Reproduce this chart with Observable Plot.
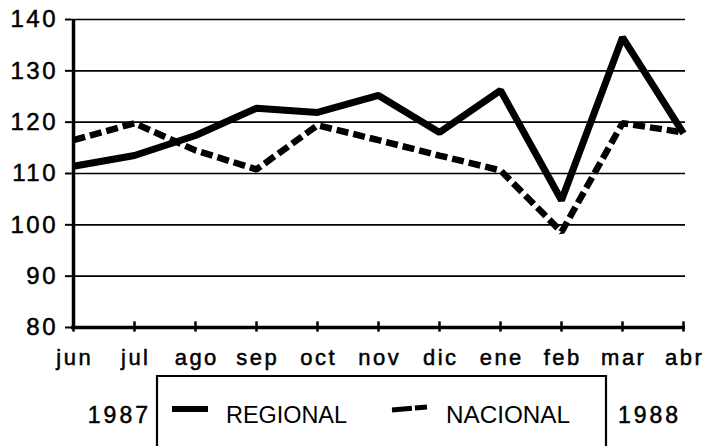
<!DOCTYPE html>
<html>
<head>
<meta charset="utf-8">
<script src="https://cdn.jsdelivr.net/npm/d3@7"></script>
<script src="https://cdn.jsdelivr.net/npm/@observablehq/plot@0.6"></script>
<style>
  html, body { margin: 0; padding: 0; background: #fff; }
  #chart { width: 706px; height: 446px; position: relative; }
  svg { font-family: "Liberation Sans", Arial, sans-serif; }
</style>
</head>
<body>
<div id="chart"></div>
<script>
const months = ["jun","jul","ago","sep","oct","nov","dic","ene","feb","mar","abr"];
const regional = [111.4, 113.5, 117.4, 122.7, 121.9, 125.2, 118.0, 126.2, 104.8, 136.5, 117.8];
const nacional = [116.5, 119.8, 114.5, 110.8, 119.4, 116.5, 113.5, 110.6, 98.6, 119.8, 118.0];
const yTicks = [80, 90, 100, 110, 120, 130, 140];
const seriesNames = ["REGIONAL", "NACIONAL"];
const yearLabels = ["1987", "1988"];

const rows = [];
months.forEach((m, i) => {
  rows.push({month: m, value: regional[i], series: seriesNames[0]});
  rows.push({month: m, value: nacional[i], series: seriesNames[1]});
});

const W = 706, H = 446;
const plot = Plot.plot({
  width: W,
  height: H,
  marginLeft: 71,
  marginRight: 21,
  marginTop: 19,
  marginBottom: 119,
  style: {background: "#fff", color: "#000", fontFamily: "Liberation Sans, Arial, sans-serif"},
  x: {type: "point", domain: months, padding: 0, label: null},
  y: {domain: [80, 140], label: null},
  marks: [
    Plot.gridY(yTicks.filter(t => t > 80), {stroke: "#000", strokeOpacity: 1, strokeWidth: 1.6}),
    Plot.axisY({ticks: yTicks, tickSize: 6, tickPadding: 7.5, fontSize: 24, strokeWidth: 2, label: null}),
    Plot.axisX({ticks: months, tickSize: 0, tickPadding: 22, fontSize: 22, label: null}),
    Plot.ruleX(months, {x: d => d, y1: 79.1, y2: 81.1, stroke: "#000", strokeWidth: 2.5}),
    Plot.ruleY([80], {stroke: "#000", strokeWidth: 3.5}),
    Plot.ruleX([months[0]], {stroke: "#000", strokeWidth: 3.5}),
    Plot.line(rows.filter(d => d.series === seriesNames[1]), {
      x: "month", y: "value", stroke: "#000", strokeWidth: 6.5,
      strokeDasharray: "12,5", strokeLinejoin: "miter", strokeLinecap: "butt"
    }),
    Plot.line(rows.filter(d => d.series === seriesNames[0]), {
      x: "month", y: "value", stroke: "#000", strokeWidth: 7,
      strokeLinejoin: "miter", strokeLinecap: "butt"
    })
  ]
});
document.getElementById("chart").appendChild(plot);

const svg = d3.select(plot);
svg.selectAll('g[aria-label="y-axis tick label"]').attr("font-size", 24);
svg.selectAll('g[aria-label="y-axis tick label"] text').attr("letter-spacing", "2.5px")
  .attr("stroke", "#000").attr("stroke-width", 0.5);
svg.selectAll('g[aria-label="x-axis tick label"]').attr("font-size", 22);
svg.selectAll('g[aria-label="x-axis tick label"] text').attr("letter-spacing", "2.5px").attr("dx", "1.25")
  .attr("stroke", "#000").attr("stroke-width", 0.5);

// legend
const lg = svg.append("g").attr("fill", "none").attr("stroke", "#000");
lg.append("path").attr("d", "M157,450 V376 H606 V450").attr("stroke-width", 2.2);
lg.append("line").attr("x1", 172).attr("x2", 208).attr("y1", 409).attr("y2", 409).attr("stroke-width", 6);
lg.append("line").attr("x1", 392).attr("x2", 427).attr("y1", 410).attr("y2", 407).attr("stroke-width", 5)
  .attr("stroke-dasharray", "20,3");
const tg = svg.append("g").attr("fill", "#000").attr("stroke", "none").attr("text-anchor", "start")
  .attr("font-family", "Liberation Sans, Arial, sans-serif");
tg.append("text").attr("x", 151).attr("y", 423).attr("text-anchor", "end").attr("font-size", 23).attr("letter-spacing", "3px")
  .attr("stroke", "#000").attr("stroke-width", 0.5).text(yearLabels[0]);
tg.append("text").attr("x", 618).attr("y", 423).attr("text-anchor", "start").attr("font-size", 23).attr("letter-spacing", "3px")
  .attr("stroke", "#000").attr("stroke-width", 0.5).text(yearLabels[1]);
tg.append("text").attr("x", 226).attr("y", 423).attr("text-anchor", "start").attr("font-size", 23).attr("textLength", 121).attr("lengthAdjust", "spacingAndGlyphs").text(seriesNames[0]);
tg.append("text").attr("x", 446).attr("y", 423).attr("text-anchor", "start").attr("font-size", 23).attr("textLength", 124).attr("lengthAdjust", "spacingAndGlyphs").text(seriesNames[1]);
</script>
</body>
</html>
